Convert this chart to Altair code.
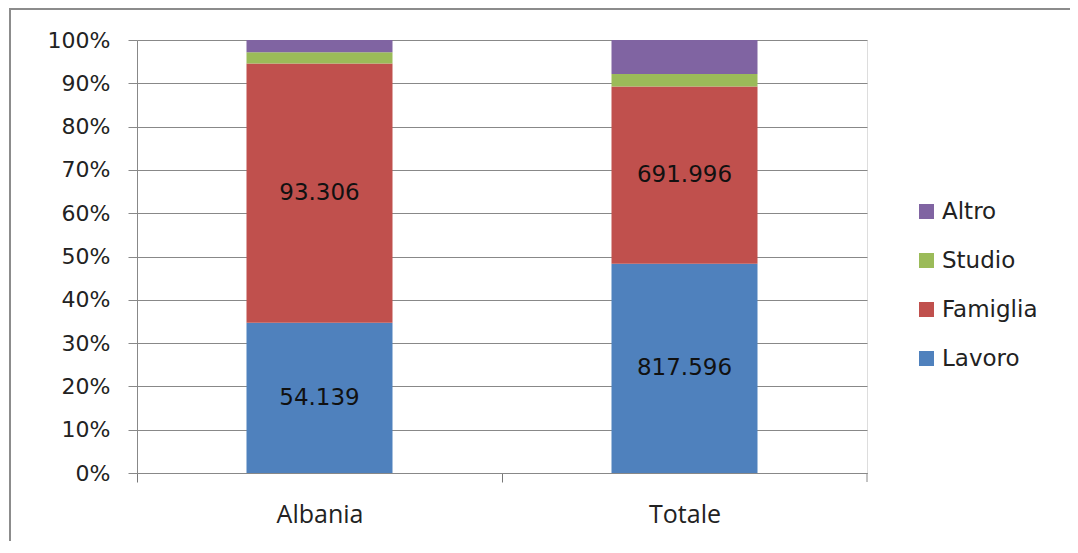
import altair as alt
import pandas as pd

countries = ["Albania", "Totale"]
categories = ["Lavoro", "Famiglia", "Studio", "Altro"]
lavoro = [54139, 817596]
famiglia = [93306, 691996]
studio = [4100, 49000]
altro = [4400, 132500]
labelled = ["Lavoro", "Famiglia"]
colors = {"Altro": "#8064A2", "Studio": "#9BBB59", "Famiglia": "#C0504D", "Lavoro": "#4F81BD"}
y_ticks = [0, 0.1, 0.2, 0.3, 0.4, 0.5, 0.6, 0.7, 0.8, 0.9, 1.0]

series = {"Lavoro": lavoro, "Famiglia": famiglia, "Studio": studio, "Altro": altro}
rows = []
for ci, c in enumerate(countries):
    for oi, cat in enumerate(categories):
        v = series[cat][ci]
        rows.append({
            "country": c,
            "cat": cat,
            "ord": oi,
            "value": v,
            "label": f"{v:,}".replace(",", ".") if cat in labelled else "",
        })
df = pd.DataFrame(rows)

W, H = 730, 433
legend_order = ["Altro", "Studio", "Famiglia", "Lavoro"]

base = alt.Chart(df).transform_stack(
    stack="value", groupby=["country"], as_=["v0", "v1"],
    sort=[alt.SortField("ord", order="ascending")], offset="normalize"
).transform_calculate(mid="(datum.v0 + datum.v1) / 2")

x_enc = alt.X(
    "country:N", sort=countries, title=None,
    scale=alt.Scale(paddingInner=0.6, paddingOuter=0.3),
    axis=alt.Axis(
        tickOffset=-W / 4, labelOffset=W / 4, labelAngle=0,
        labelFont="Open Sans", labelFontSize=25, labelColor="#222",
        labelPadding=20, tickSize=9, tickColor="#777", tickWidth=1,
        domainColor="#888", ticks=True, grid=False,
    ),
)

bars = base.mark_bar().encode(
    x=x_enc,
    y=alt.Y(
        "v0:Q", title=None,
        scale=alt.Scale(domain=[0, 1], nice=False),
        axis=alt.Axis(
            values=y_ticks, format=".0%", labelFont="DejaVu Sans", labelFontSize=22,
            labelColor="#222", labelPadding=18, tickSize=9, tickColor="#888",
            domainColor="#888", gridColor="#888", grid=True, gridWidth=1,
        ),
    ),
    y2="v1:Q",
    color=alt.Color(
        "cat:N",
        scale=alt.Scale(domain=legend_order, range=[colors[k] for k in legend_order]),
        legend=alt.Legend(
            title=None, orient="none", legendX=778, legendY=160,
            symbolType="square", symbolSize=225, symbolStrokeWidth=0,
            labelFont="DejaVu Sans", labelFontSize=23, labelColor="#222",
            labelOffset=4, rowPadding=25, padding=0,
        ),
    ),
)

texts = base.transform_filter("datum.label != ''").mark_text(
    font="DejaVu Sans", fontSize=23, color="#111", baseline="middle", align="center"
).encode(
    x=alt.X("country:N", sort=countries),
    y=alt.Y("mid:Q"),
    text="label:N",
)

end_tick = alt.Chart(alt.Data(values=[{}])).mark_rule(color="#888", strokeWidth=1).encode(
    x=alt.value(W), y=alt.value(H), y2=alt.value(H + 9)
)

frame = alt.Chart(alt.Data(values=[{}])).mark_rect(
    fill=None, stroke="#8c8c8c", strokeWidth=2
).encode(
    x=alt.value(-127), x2=alt.value(1100), y=alt.value(-31), y2=alt.value(700)
)

chart = alt.layer(frame, bars, texts, end_tick).properties(
    width=W, height=H,
    autosize=alt.AutoSizeParams(type="none"),
    padding={"left": 129, "top": 32, "right": 203, "bottom": 68},
).configure_view(stroke=None).configure(background="white")

chart.save("out.html", embed_options={"renderer": "svg", "actions": False})
